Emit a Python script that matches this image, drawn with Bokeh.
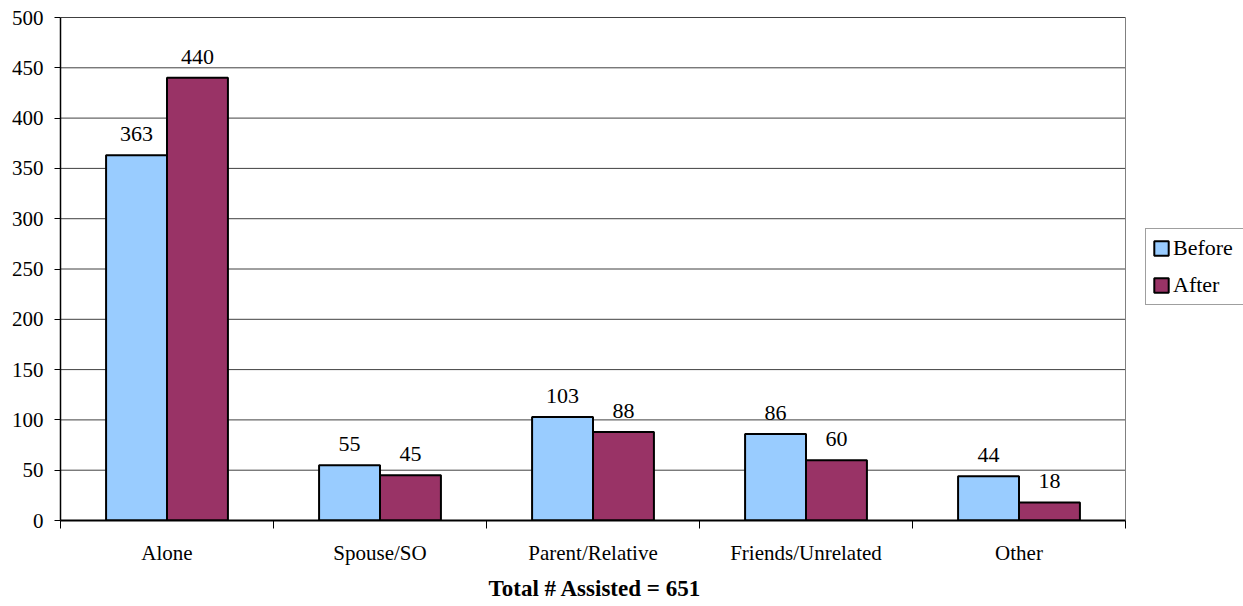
from bokeh.plotting import figure
from bokeh.models import ColumnDataSource, FixedTicker, Legend, LegendItem, Range1d, Title
from bokeh.core.properties import value
from bokeh.embed import file_html
from bokeh.resources import INLINE
import numpy as np

categories = ["Alone", "Spouse/SO", "Parent/Relative", "Friends/Unrelated", "Other"]
before = [363, 55, 103, 86, 44]
after = [440, 45, 88, 60, 18]
series_names = ["Before", "After"]
y_ticks = [0, 50, 100, 150, 200, 250, 300, 350, 400, 450, 500]
x_title = "Total # Assisted = 651"

FONT = "Liberation Serif"
C_BEFORE = "#99CCFF"
C_AFTER = "#993366"
BAR_W = 0.286

W, H = 1243, 606
LEFT, TOP, RIGHT_PLOT = 60, 16, 1125

n = len(categories)
idx = np.arange(n)
centers = idx + 0.5
x_end = n * (W - LEFT) / (RIGHT_PLOT - LEFT)   # data 0..n spans the plot box; the rest holds the legend

src_b = ColumnDataSource(dict(x=centers - BAR_W / 2, top=before, lab=[str(v) for v in before]))
src_a = ColumnDataSource(dict(x=centers + BAR_W / 2, top=after, lab=[str(v) for v in after]))
src_g = ColumnDataSource(dict(y=y_ticks, x0=[0] * len(y_ticks), x1=[n] * len(y_ticks)))

p = figure(width=W, height=H, output_backend="svg", toolbar_location=None,
           x_range=Range1d(0, x_end), y_range=Range1d(0, 501),
           min_border_left=LEFT, min_border_right=0, min_border_top=TOP, min_border_bottom=40)
p.background_fill_color = "white"
p.border_fill_color = "white"
p.outline_line_color = None

# horizontal grid lines limited to the plot box
p.segment(x0="x0", x1="x1", y0="y", y1="y", source=src_g, line_color="#404040", line_width=1)
# right border of the plot box
p.segment(x0=[n], x1=[n], y0=[0], y1=[max(y_ticks)], line_color="#808080", line_width=1)

rb = p.vbar(x="x", top="top", width=BAR_W, bottom=0, source=src_b,
            fill_color=C_BEFORE, line_color="black", line_width=2)
ra = p.vbar(x="x", top="top", width=BAR_W, bottom=0, source=src_a,
            fill_color=C_AFTER, line_color="black", line_width=2)

for s in (src_b, src_a):
    p.text(x="x", y="top", text="lab", source=s, text_align="center",
           text_baseline="alphabetic", y_offset=-21, text_font_size="22px",
           text_font=value(FONT), text_color="black")

# y axis
p.yaxis.ticker = FixedTicker(ticks=y_ticks)
p.yaxis.bounds = (0, max(y_ticks))
p.yaxis.major_tick_out = 6
p.yaxis.major_tick_in = 0
p.yaxis.minor_tick_line_color = None
p.yaxis.major_label_text_font = FONT
p.yaxis.major_label_text_font_size = "21px"
p.yaxis.major_label_text_color = "black"
p.yaxis.major_label_standoff = 11
p.yaxis.axis_line_color = "black"
p.yaxis.axis_line_width = 1.5
p.yaxis.major_tick_line_color = "black"

# x axis
p.xaxis.ticker = FixedTicker(ticks=list(centers), minor_ticks=list(range(n + 1)))
p.xaxis.bounds = (0, n)
p.xaxis.major_label_overrides = {float(c): cat for c, cat in zip(centers, categories)}
p.xaxis.major_tick_out = 0
p.xaxis.major_tick_in = 0
p.xaxis.major_tick_line_color = None
p.xaxis.minor_tick_out = 8
p.xaxis.minor_tick_in = 0
p.xaxis.minor_tick_line_color = "black"
p.xaxis.minor_tick_line_width = 1
p.xaxis.major_label_text_font = FONT
p.xaxis.major_label_text_font_size = "21px"
p.xaxis.major_label_text_color = "black"
p.xaxis.major_label_standoff = 12
p.xaxis.axis_line_color = "black"
p.xaxis.axis_line_width = 2

p.xgrid.grid_line_color = None
p.ygrid.grid_line_color = None

# bottom title, centred under the plot box (not under the whole canvas)
title = Title(text=x_title, align="left", text_font=FONT, text_font_style="bold",
              text_font_size="23px", text_color="black", standoff=12,
              offset=428)
p.add_layout(title, "below")

legend = Legend(items=[LegendItem(label=series_names[0], renderers=[rb]),
                       LegendItem(label=series_names[1], renderers=[ra])],
                location=(1145 - LEFT, 520 - 305))
legend.label_text_font = FONT
legend.label_text_font_size = "22px"
legend.label_text_color = "black"
legend.glyph_width = 18
legend.glyph_height = 18
legend.label_standoff = 3
legend.label_width = 64
legend.spacing = 11
legend.padding = 6
legend.margin = 0
legend.border_line_color = "#404040"
legend.border_line_width = 1
legend.background_fill_color = "white"
p.add_layout(legend, "center")

open("out.html", "w").write(file_html(p, INLINE))
